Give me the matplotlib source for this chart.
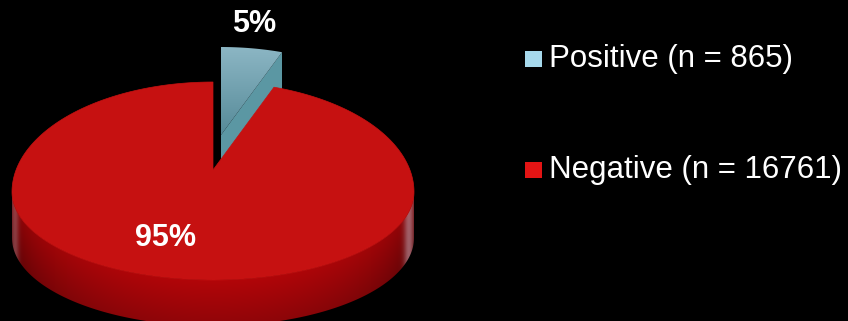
import numpy as np
import matplotlib.pyplot as plt
from matplotlib.patches import Polygon, Rectangle

# counts per group
labels = ['Positive', 'Negative']
counts = [865, 16761]
pct_labels = ['5%', '95%']
legend_text = ['Positive (n = 865)', 'Negative (n = 16761)']

# pie geometry in pixel units (figure is 848x321)
cx, cy = 213, 192          # centre of the top ellipse
apex = (213, 170)          # where the slices meet (perspective centre)
rx, ry_back, ry_front = 201, 110, 88
depth = 46
explode = (8, -35)         # offset of the positive slice
W, H = 848, 321


def pt(t, dx=0, dy=0):
    # point on the top rim for angle t (degrees, counter clockwise from east)
    r = np.radians(t)
    ry = ry_back if np.sin(r) > 0 else ry_front
    return (cx + rx*np.cos(r) + dx, cy - ry*np.sin(r) + dy)


def arc(t1, t2, n=120, dx=0, dy=0):
    return [pt(t, dx, dy) for t in np.linspace(t1, t2, n)]


def wall_image():
    # colour of the front wall: lighter at the front, darker downwards and at the sides
    xx, yy = np.meshgrid(np.arange(W) + 0.5, np.arange(H) + 0.5)
    c = np.clip((xx - cx) / rx, -1, 1)
    s = np.sqrt(1 - c**2)
    ytop = cy + ry_front*s
    v = np.clip((yy - ytop) / depth, 0, 1)
    front = s**0.6
    img = np.zeros((H, W, 3))
    img[..., 0] = (100 + 78*front - 35*v) / 255
    img[..., 1] = (2 + 4*front) / 255
    img[..., 2] = (4 + 5*front) / 255
    # soft highlights near both ends
    hr = np.exp(-((c - 0.975)/0.025)**2) * 0.75
    hl = np.exp(-((c + 0.985)/0.02)**2) * 0.45
    hi = np.array([175, 125, 135]) / 255
    for k in range(3):
        img[..., k] = img[..., k]*(1 - hr - hl) + hi[k]*(hr + hl)
    return np.clip(img, 0, 1)


def blue_image():
    yy = np.arange(H)[:, None] + 0.5
    v = np.clip((yy - 47) / 100, 0, 1)
    top = np.array([140, 182, 196]) / 255
    bot = np.array([78, 132, 146]) / 255
    img = top + (bot - top)*v[..., None]
    return np.repeat(img, W, axis=1)


fig = plt.figure(figsize=(8.48, 3.21), dpi=100, facecolor='black')
ax = fig.add_axes([0, 0, 1, 1])
ax.set_xlim(0, W)
ax.set_ylim(H, 0)
ax.set_facecolor('black')
ax.axis('off')

fracs = np.array(counts) / np.sum(counts)
start = 90
pos_end = start - fracs[0]*360     # positive slice runs clockwise from the top
neg_end = pos_end - fracs[1]*360

# positive slice, lifted out of the pie
dx, dy = explode
a = (apex[0] + dx, apex[1] + dy)
e = pt(pos_end, dx, dy)
face = [a, e, (e[0], e[1] + depth), (a[0], a[1] + depth)]
ax.add_patch(Polygon(face, closed=True, fc='#5b97a3', ec='none', zorder=1))
top_pos = Polygon([a] + arc(start, pos_end, dx=dx, dy=dy), closed=True,
                  fc='none', ec='none', zorder=2)
ax.add_patch(top_pos)
im = ax.imshow(blue_image(), extent=(0, W, H, 0), zorder=2, aspect='auto')
im.set_clip_path(top_pos)

# side wall of the negative slice
wall_pts = arc(180, 360, n=200) + [(p[0], p[1] + depth) for p in arc(360, 180, n=200)]
wall = Polygon(wall_pts, closed=True, fc='none', ec='none', zorder=3)
ax.add_patch(wall)
im = ax.imshow(wall_image(), extent=(0, W, H, 0), zorder=3, aspect='auto')
im.set_clip_path(wall)

# top face of the negative slice
top_neg = [apex] + arc(pos_end, neg_end, n=400)
ax.add_patch(Polygon(top_neg, closed=True, fc='#c61111', ec='#c61111', lw=0.5, zorder=4))

ax.set_xlim(0, W)
ax.set_ylim(H, 0)

# percentage labels
ax.text(254, 24, pct_labels[0], color='white', fontsize=22, fontweight='bold',
        family='Liberation Sans', ha='center', va='center', zorder=5)
ax.text(166, 238, pct_labels[1], color='white', fontsize=22, fontweight='bold',
        family='Liberation Sans', ha='center', va='center', zorder=5)

# legend
colors = ['#a6d9ec', '#e31414']
for i, txt in enumerate(legend_text):
    y = 59 + i*111
    ax.add_patch(Rectangle((525, y - 8), 17, 16, fc=colors[i], ec='none', zorder=5))
    ax.text(549, y, txt, color='white', fontsize=22.5, family='Liberation Sans',
            ha='left', va='center', zorder=5)

fig.savefig('out.png', dpi=100, facecolor='black')
